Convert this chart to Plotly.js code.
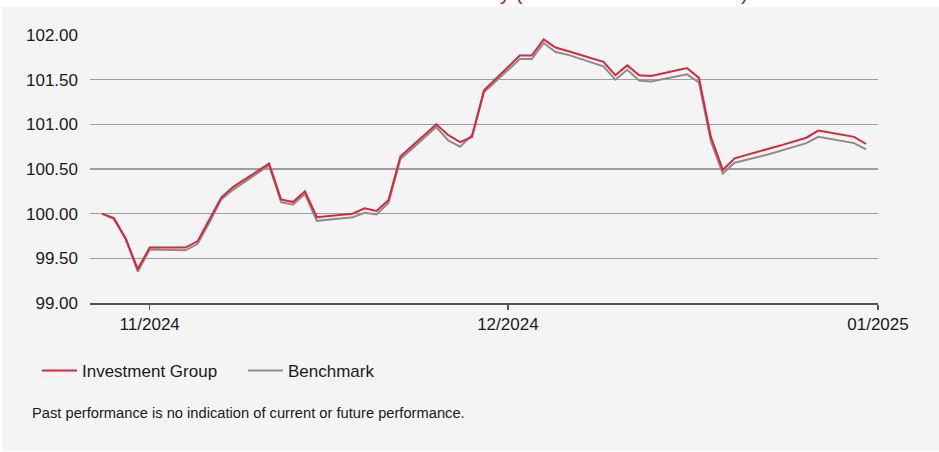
<!DOCTYPE html>
<html><head><meta charset="utf-8">
<script src="https://cdn.plot.ly/plotly-3.0.1.min.js"></script>
<style>
html,body{margin:0;padding:0;background:#fff;width:939px;height:452px;overflow:hidden;}
#panel{position:absolute;left:2px;top:7px;width:937px;height:444px;background:#f4f4f4;}
#title{position:absolute;right:191px;top:-17px;font-family:"Liberation Sans",Arial,sans-serif;font-size:20px;line-height:20px;color:#a3162f;white-space:nowrap;}
#chart{position:absolute;left:0;top:0;width:939px;height:452px;}
</style></head>
<body>
<div id="panel"></div>
<div id="title">Performance History (as at 31 December 2024)</div>
<div id="chart"></div>
<script>
const dates = [
  '2024-10-28','2024-10-29','2024-10-30','2024-10-31','2024-11-01',
  '2024-11-04','2024-11-05','2024-11-06','2024-11-07','2024-11-08',
  '2024-11-11','2024-11-12','2024-11-13','2024-11-14','2024-11-15',
  '2024-11-18','2024-11-19','2024-11-20','2024-11-21','2024-11-22',
  '2024-11-25','2024-11-26','2024-11-27','2024-11-28','2024-11-29',
  '2024-12-02','2024-12-03','2024-12-04','2024-12-05','2024-12-06',
  '2024-12-09','2024-12-10','2024-12-11','2024-12-12','2024-12-13',
  '2024-12-16','2024-12-17','2024-12-18','2024-12-19','2024-12-20',
  '2024-12-23','2024-12-24','2024-12-26','2024-12-27',
  '2024-12-30','2024-12-31'
];
const investmentGroup = [
  100.00, 99.95, 99.72, 99.38, 99.62,
  99.62, 99.69, 99.94, 100.18, 100.30,
  100.56, 100.16, 100.13, 100.25, 99.96,
  100.00, 100.06, 100.03, 100.15, 100.64,
  101.00, 100.88, 100.80, 100.86, 101.38,
  101.77, 101.77, 101.95, 101.86, 101.82,
  101.70, 101.55, 101.66, 101.55, 101.54,
  101.63, 101.52, 100.86, 100.49, 100.62,
  100.73, 100.77, 100.85, 100.93,
  100.86, 100.78
];
const benchmark = [
  100.00, 99.94, 99.71, 99.35, 99.60,
  99.59, 99.66, 99.90, 100.16, 100.27,
  100.54, 100.13, 100.10, 100.22, 99.92,
  99.96, 100.01, 99.99, 100.12, 100.61,
  100.97, 100.82, 100.75, 100.88, 101.36,
  101.73, 101.73, 101.91, 101.81, 101.78,
  101.65, 101.50, 101.61, 101.49, 101.48,
  101.56, 101.47, 100.81, 100.45, 100.57,
  100.67, 100.71, 100.79, 100.86,
  100.79, 100.72
];
const tickDates = ['2024-11-01','2024-12-01','2025-01-01'];
const tickLabels = ['11/2024','12/2024','01/2025'];
const seriesNames = ['Investment Group','Benchmark'];
const footnote = 'Past performance is no indication of current or future performance.';

const FONT = '"Liberation Sans", Arial, sans-serif';

const data = [
  {x: dates, y: benchmark, name: seriesNames[1], type: 'scatter', mode: 'lines',
   line: {color: '#8c8c8c', width: 2}},
  {x: dates, y: investmentGroup, name: seriesNames[0], type: 'scatter', mode: 'lines',
   line: {color: '#d9263d', width: 2}}
];

const layout = {
  width: 939, height: 452,
  margin: {l: 90, r: 61, t: 35, b: 149},
  paper_bgcolor: 'rgba(0,0,0,0)', plot_bgcolor: 'rgba(0,0,0,0)',
  font: {family: FONT, size: 17, color: '#1a1a1a'},
  showlegend: true,
  legend: {orientation: 'h', x: -0.0673, y: -0.186, xanchor: 'left', yanchor: 'top',
           itemwidth: 35, entrywidth: 156, entrywidthmode: 'pixels',
           traceorder: 'reversed', bgcolor: 'rgba(0,0,0,0)', font: {family: FONT, size: 17, color: '#1a1a1a'}},
  xaxis: {type: 'date', range: ['2024-10-27', '2025-01-01'],
          tickmode: 'array', tickvals: tickDates, ticktext: tickLabels,
          ticks: 'outside', ticklen: 5, tickwidth: 1.5, tickcolor: '#555',
          showline: true, linecolor: '#555', linewidth: 1.5,
          showgrid: false, zeroline: false, tickfont: {family: FONT, size: 17, color: '#1a1a1a'}},
  yaxis: {range: [99, 102], tick0: 99, dtick: 0.5, tickformat: '.2f',
          showgrid: true, gridcolor: '#9e9e9e', gridwidth: 1.5,
          zeroline: false, showline: false, ticks: '', ticklabelstandoff: 11,
          tickfont: {family: FONT, size: 17, color: '#1a1a1a'}},
  annotations: [
    {text: footnote, xref: 'paper', yref: 'paper', x: -0.0762, y: -0.41,
     xanchor: 'left', yanchor: 'middle', showarrow: false,
     font: {family: FONT, size: 14.7, color: '#1a1a1a'}}
  ]
};

Plotly.newPlot('chart', data, layout, {staticPlot: true, displayModeBar: false});
</script>
</body></html>
